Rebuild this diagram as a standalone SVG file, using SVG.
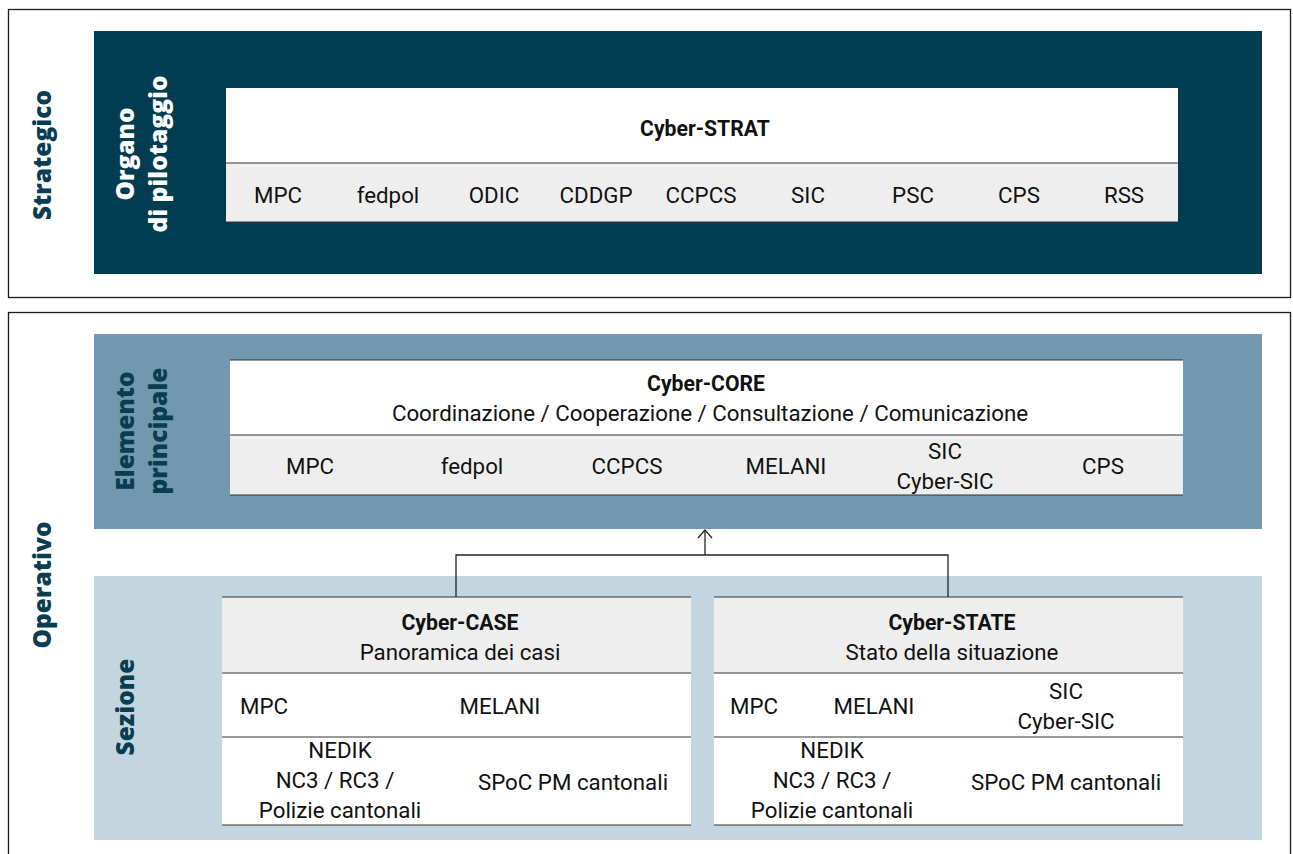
<svg xmlns="http://www.w3.org/2000/svg" width="1293" height="854" viewBox="0 0 1293 854">
<style>
.frame{fill:#fff;stroke:#1a1a1a;stroke-width:1.3}
.t{font-family:'Roboto','Liberation Sans',sans-serif;font-size:22.3px;fill:#111;text-anchor:middle}
.b{font-weight:bold;font-size:21.2px}
.s{text-anchor:start}
.v{font-family:'Open Sans','Noto Sans',sans-serif;font-weight:800;font-size:24.5px;text-anchor:middle}
.line{stroke:#222;stroke-width:1.3;fill:none}
.hl{stroke:#333;stroke-width:1.2}
</style>
<rect x="0" y="0" width="1293" height="854" fill="#fff"/>
<g id="strategico">
<rect class="frame" x="8.5" y="9.5" width="1282" height="288"/>
<text class="v" fill="#0b3d52" transform="translate(51,155) rotate(-90)">Strategico</text>
</g>
<g id="organo">
<rect x="94" y="31" width="1168" height="243" fill="#023c51"/>
<text class="v" fill="#fff" transform="translate(134,154) rotate(-90)">Organo</text>
<text class="v" fill="#fff" transform="translate(167,154) rotate(-90)">di pilotaggio</text>
</g>
<g id="cyber-strat">
<rect x="226" y="88" width="952" height="75" fill="#fff"/>
<rect x="226" y="163" width="952" height="59" fill="#eeeeee"/>
<line class="hl" x1="226" y1="163" x2="1178" y2="163" stroke="#666"/>
<line class="hl" x1="226" y1="222" x2="1178" y2="222"/>
<text class="t b" x="705" y="136">Cyber-STRAT</text>
<text class="t" x="278" y="203">MPC</text>
<text class="t" x="388" y="203">fedpol</text>
<text class="t" x="494" y="203">ODIC</text>
<text class="t" x="596" y="203">CDDGP</text>
<text class="t" x="701" y="203">CCPCS</text>
<text class="t" x="808" y="203">SIC</text>
<text class="t" x="913" y="203">PSC</text>
<text class="t" x="1019" y="203">CPS</text>
<text class="t" x="1124" y="203">RSS</text>
</g>
<g id="operativo">
<rect class="frame" x="8.5" y="312.5" width="1282" height="560"/>
<text class="v" fill="#0b3d52" transform="translate(51,585) rotate(-90)">Operativo</text>
</g>
<g id="elemento">
<rect x="94" y="334" width="1168" height="195" fill="#7198ae"/>
<text class="v" fill="#0b3d52" transform="translate(134,431) rotate(-90)">Elemento</text>
<text class="v" fill="#0b3d52" transform="translate(167,431) rotate(-90)">principale</text>
</g>
<g id="sezione">
<rect x="94" y="576" width="1168" height="264" fill="#c3d6e0"/>
<text class="v" fill="#0b3d52" transform="translate(134,707) rotate(-90)">Sezione</text>
</g>
<g id="cyber-core">
<rect x="230" y="360" width="953" height="75" fill="#fff"/>
<rect x="230" y="435" width="953" height="60" fill="#eeeeee"/>
<line class="hl" x1="230" y1="360" x2="1183" y2="360"/>
<line class="hl" x1="230" y1="435" x2="1183" y2="435" stroke="#666"/>
<line class="hl" x1="230" y1="495" x2="1183" y2="495"/>
<text class="t b" x="706" y="391">Cyber-CORE</text>
<text class="t" x="710" y="421">Coordinazione / Cooperazione / Consultazione / Comunicazione</text>
<text class="t" x="310" y="474">MPC</text>
<text class="t" x="472" y="474">fedpol</text>
<text class="t" x="627" y="474">CCPCS</text>
<text class="t" x="786" y="474">MELANI</text>
<text class="t" x="945" y="459">SIC</text>
<text class="t" x="945" y="489">Cyber-SIC</text>
<text class="t" x="1103" y="474">CPS</text>
</g>
<g id="connectors">
<polyline class="line" points="456,597 456,555 948,555 948,597"/>
<line class="line" x1="705" y1="555" x2="705" y2="530"/>
<polyline class="line" points="698,538 705,530 712,538"/>
</g>
<g id="cyber-case">
<rect x="222" y="597" width="469" height="76" fill="#eeeeee"/>
<rect x="222" y="673" width="469" height="152" fill="#fff"/>
<line class="hl" x1="222" y1="597" x2="691" y2="597"/>
<line class="hl" x1="222" y1="673" x2="691" y2="673" stroke="#555"/>
<line class="hl" x1="222" y1="737" x2="691" y2="737"/>
<line class="hl" x1="222" y1="825" x2="691" y2="825"/>
<text class="t b" x="460" y="630">Cyber-CASE</text>
<text class="t" x="460" y="660">Panoramica dei casi</text>
<text class="t s" x="240" y="714">MPC</text>
<text class="t" x="500" y="714">MELANI</text>
<text class="t" x="340" y="758">NEDIK</text>
<text class="t" x="335" y="788">NC3 / RC3 /</text>
<text class="t" x="340" y="818">Polizie cantonali</text>
<text class="t" x="573" y="790">SPoC PM cantonali</text>
</g>
<g id="cyber-state">
<rect x="714" y="597" width="469" height="76" fill="#eeeeee"/>
<rect x="714" y="673" width="469" height="152" fill="#fff"/>
<line class="hl" x1="714" y1="597" x2="1183" y2="597"/>
<line class="hl" x1="714" y1="673" x2="1183" y2="673" stroke="#555"/>
<line class="hl" x1="714" y1="737" x2="1183" y2="737"/>
<line class="hl" x1="714" y1="825" x2="1183" y2="825"/>
<text class="t b" x="952" y="630">Cyber-STATE</text>
<text class="t" x="952" y="660">Stato della situazione</text>
<text class="t s" x="730" y="714">MPC</text>
<text class="t" x="874" y="714">MELANI</text>
<text class="t" x="1066" y="699">SIC</text>
<text class="t" x="1066" y="729">Cyber-SIC</text>
<text class="t" x="832" y="758">NEDIK</text>
<text class="t" x="832" y="788">NC3 / RC3 /</text>
<text class="t" x="832" y="818">Polizie cantonali</text>
<text class="t" x="1066" y="790">SPoC PM cantonali</text>
</g>
</svg>
